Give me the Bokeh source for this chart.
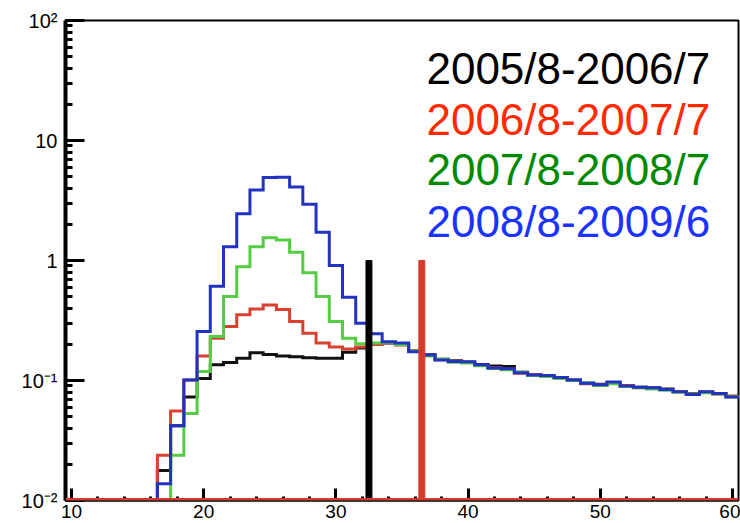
from bokeh.plotting import figure
from bokeh.models import Range1d, CustomJSTickFormatter, FixedTicker, ColumnDataSource, Span
from bokeh.core.properties import value
from bokeh.embed import file_html
from bokeh.resources import INLINE

# ---- data -------------------------------------------------------------
bin_centers = list(range(17, 61))

black_vals = [0.0178, 0.042, 0.073, 0.104, 0.135, 0.141, 0.153, 0.170, 0.165, 0.160,
              0.158, 0.155, 0.153, 0.153, 0.172, 0.187, 0.200, 0.205, 0.201, 0.177,
              0.164, 0.150, 0.146, 0.142, 0.136, 0.132, 0.131, 0.117, 0.112, 0.109,
              0.106, 0.101, 0.095, 0.093, 0.096, 0.091, 0.088, 0.087, 0.085, 0.081,
              0.078, 0.080, 0.078, 0.074]
red_vals = [0.0238, 0.0558, 0.101, 0.160, 0.225, 0.282, 0.353, 0.394, 0.425, 0.390,
            0.310, 0.248, 0.205, 0.190, 0.183, 0.190, 0.200, 0.206, 0.198, 0.178,
            0.162, 0.149, 0.145, 0.141, 0.134, 0.128, 0.124, 0.115, 0.112, 0.109,
            0.105, 0.100, 0.094, 0.092, 0.095, 0.091, 0.087, 0.086, 0.084, 0.081,
            0.077, 0.080, 0.077, 0.074]
green_vals = [0.0, 0.0238, 0.053, 0.119, 0.233, 0.500, 0.885, 1.30, 1.55, 1.48,
              1.17, 0.79, 0.50, 0.31, 0.225, 0.202, 0.205, 0.208, 0.200, 0.176,
              0.160, 0.150, 0.142, 0.140, 0.133, 0.126, 0.123, 0.117, 0.110, 0.108,
              0.104, 0.100, 0.096, 0.091, 0.094, 0.089, 0.087, 0.085, 0.083, 0.080,
              0.077, 0.079, 0.077, 0.073]
blue_vals = [0.0138, 0.042, 0.101, 0.256, 0.61, 1.30, 2.45, 3.87, 4.92, 4.95,
             4.10, 2.94, 1.72, 0.91, 0.495, 0.30, 0.245, 0.21, 0.205, 0.174,
             0.163, 0.148, 0.144, 0.143, 0.135, 0.127, 0.125, 0.116, 0.111, 0.110,
             0.106, 0.101, 0.095, 0.092, 0.097, 0.090, 0.088, 0.087, 0.084, 0.0805,
             0.0765, 0.0805, 0.078, 0.073]

series_labels = ["2005/8-2006/7", "2006/8-2007/7", "2007/8-2008/7", "2008/8-2009/6"]
line_colors = ["#111111", "#d8412f", "#55cc44", "#2233c0"]
label_colors = ["#000000", "#ff2a00", "#008a00", "#1a33ff"]
legend_x = [36.85, 36.85, 36.85, 36.85]
legend_y = [39.6, 15.1, 5.78, 2.12]

marker_x = [32.5, 36.5]
marker_top = [1.0, 1.0]
marker_colors = ["#000000", "#d63a2f"]

x_ticks = [10, 20, 30, 40, 50, 60]
x_minor = list(range(10, 61, 2))

# ---- figure -----------------------------------------------------------
p = figure(width=740, height=523, y_axis_type="log",
           x_range=Range1d(9.55, 60.45), y_range=Range1d(0.01, 100),
           output_backend="svg", toolbar_location=None,
           min_border_left=65, min_border_right=2, min_border_top=20,
           min_border_bottom=23)
p.background_fill_color = "white"
p.border_fill_color = "white"
p.outline_line_color = "black"
p.outline_line_width = 2
p.xgrid.visible = False
p.ygrid.visible = False

floor = p.y_range.start


def step_path(centers, vals):
    xs, ys = [], []
    for c, v in zip(centers, vals):
        lo, hi = c - 0.5, c + 0.5
        vv = v if v > floor else floor
        if not xs:
            xs.append(lo); ys.append(floor)
        xs.extend([lo, hi]); ys.extend([vv, vv])
    return xs, ys


for vals, col in zip([black_vals, red_vals, green_vals, blue_vals], line_colors):
    xs, ys = step_path(bin_centers, vals)
    p.line(xs, ys, line_color=col, line_width=3, line_join="miter")

src_m = ColumnDataSource(dict(x=marker_x, top=marker_top,
                              bottom=[floor] * len(marker_x), color=marker_colors))
p.vbar(x="x", top="top", bottom="bottom", width=0.45, color="color", source=src_m)

p.add_layout(Span(location=floor, dimension="width", line_color="#d63a2f", line_width=5))

src_t = ColumnDataSource(dict(x=legend_x, y=legend_y, text=series_labels, color=label_colors))
p.text(x="x", y="y", text="text", text_color="color", source=src_t,
       text_font=value("Liberation Sans"), text_font_size="44px",
       text_baseline="alphabetic", text_align="left")

# ---- axes -------------------------------------------------------------
xa = p.xaxis[0]
xa.ticker = FixedTicker(ticks=x_ticks, minor_ticks=x_minor)
xa.major_tick_in = 12
xa.major_tick_out = 0
xa.minor_tick_in = 4
xa.minor_tick_out = 0
xa.major_tick_line_width = 3
xa.minor_tick_line_width = 3
xa.axis_line_width = 2
xa.major_label_text_font = "Liberation Sans"
xa.major_label_text_font_size = "19px"
xa.major_label_text_color = "black"
xa.major_label_standoff = 4

ya = p.yaxis[0]
ya.formatter = CustomJSTickFormatter(code="""
const e = Math.round(Math.log10(tick));
const sup = {'-':'\u207b','0':'\u2070','1':'\u00b9','2':'\u00b2','3':'\u00b3','4':'\u2074',
             '5':'\u2075','6':'\u2076','7':'\u2077','8':'\u2078','9':'\u2079'};
if (e === 0) return '1';
if (e === 1) return '10';
return '10' + String(e).split('').map(c => sup[c]).join('');
""")
ya.major_tick_in = 19
ya.major_tick_out = 0
ya.minor_tick_in = 7
ya.minor_tick_out = 0
ya.major_tick_line_width = 3
ya.minor_tick_line_width = 3
ya.axis_line_width = 4
ya.major_label_text_font = "Liberation Sans"
ya.major_label_text_font_size = "20px"
ya.major_label_text_color = "black"
ya.major_label_standoff = 8

open("out.html", "w").write(file_html(p, INLINE))
